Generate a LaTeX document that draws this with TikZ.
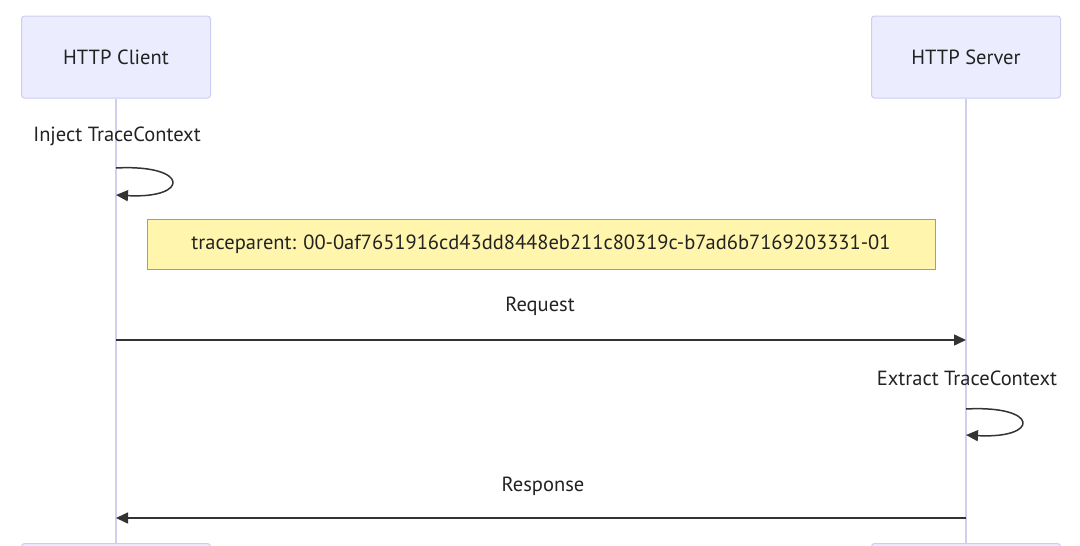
\documentclass[tikz,border=0pt]{standalone}
\usepackage{fontspec}
\setmainfont{PT Sans}
\usetikzlibrary{arrows.meta}
\definecolor{actfill}{HTML}{ECECFF}
\definecolor{actdraw}{HTML}{CCCCF5}
\definecolor{lifecol}{HTML}{CFCFEF}
\definecolor{notefill}{HTML}{FFF5AD}
\definecolor{notedraw}{HTML}{AAAA33}
\definecolor{msgcol}{HTML}{333333}
\definecolor{txtcol}{HTML}{222222}
\tikzset{
  actor/.style={draw=actdraw, fill=actfill, line width=1pt, rounded corners=3pt,
    minimum width=189pt, minimum height=82pt, inner sep=0pt, text=txtcol, font=\fontsize{20.5}{24}\selectfont},
  notebox/.style={draw=notedraw, fill=notefill, line width=1pt,
    minimum width=788pt, minimum height=50pt, inner sep=0pt, text=txtcol, font=\fontsize{20.5}{24}\selectfont},
  lbl/.style={inner sep=0pt, text=txtcol, font=\fontsize{20.5}{24}\selectfont},
  lifeline/.style={draw=lifecol, line width=1.5pt},
  msg/.style={draw=msgcol, line width=1.5pt, -{Triangle[length=12pt,width=11pt]}},
}
\begin{document}
\begin{tikzpicture}[x=1pt,y=-1pt]
\useasboundingbox (0,0) rectangle (1080,546);
\begin{scope}
\clip (0,0) rectangle (1080,546);
% actors
\node[actor] (ct) at (116,57) {\raisebox{-1.5pt}{HTTP Client}};
\node[actor] (st) at (966,57) {\raisebox{-1.5pt}{HTTP Server}};
\node[actor, anchor=north] (cb) at (116,543) {};
\node[actor, anchor=north] (sb) at (966,543) {};
% lifelines
\draw[lifeline] (ct.south) -- (cb.north);
\draw[lifeline] (st.south) -- (sb.north);
\end{scope}
% inject loop
\node[lbl] (inj) at (117,136) {Inject TraceContext};
\coordinate (c1) at (116,168);
\coordinate (c2) at (116,195);
\draw[msg] (c1) .. controls (190,164) and (190,199) .. (c2);
% note
\node[notebox] (note) at (541,244) {\raisebox{-1pt}{traceparent: 00-0af7651916cd43dd8448eb211c80319c-b7ad6b7169203331-01}};
% request
\node[lbl] (req) at (540,306) {Request};
\coordinate (r1) at (116,340);
\coordinate (r2) at (966,340);
\draw[msg] (r1) -- (r2);
% extract loop
\node[lbl] (ext) at (967,378) {Extract TraceContext};
\coordinate (e1) at (966,409);
\coordinate (e2) at (966,435);
\draw[msg] (e1) .. controls (1040,405) and (1040,439) .. (e2);
% response
\node[lbl] (resp) at (543,486) {Response};
\coordinate (s1) at (966,518);
\coordinate (s2) at (116,518);
\draw[msg] (s1) -- (s2);
\end{tikzpicture}
\end{document}
